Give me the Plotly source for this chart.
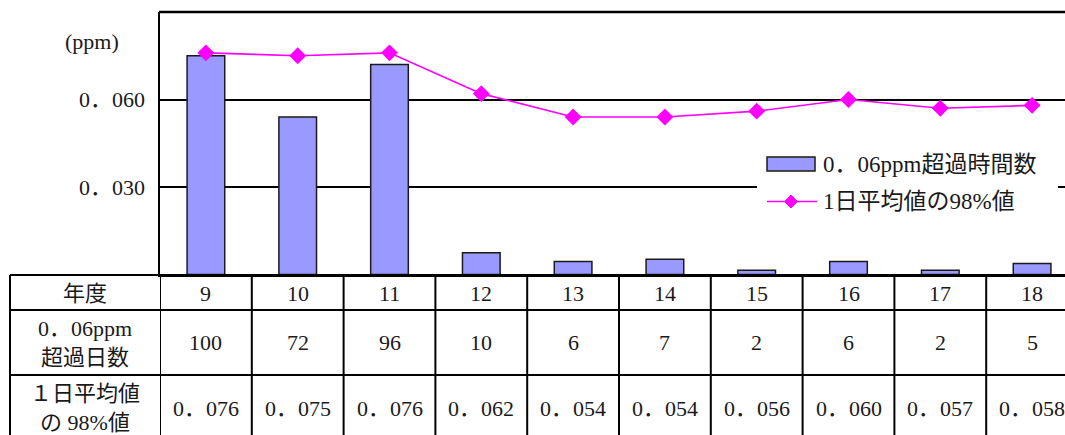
import plotly.graph_objects as go

# ---- data -------------------------------------------------------------
years = ["9", "10", "11", "12", "13", "14", "15", "16", "17", "18"]
exceed_days = [100, 72, 96, 10, 6, 7, 2, 6, 2, 5]
p98 = [0.076, 0.075, 0.076, 0.062, 0.054, 0.054, 0.056, 0.060, 0.057, 0.058]
ppm_ticks = [0.03, 0.06]

bar_name = "0．06ppm超過時間数"
line_name = "1日平均値の98%値"
row_labels = ["年度", "0．06ppm<br>超過日数", "１日平均値<br>の 98%値"]
unit_label = "(ppm)"

# ---- page geometry (pixels) --------------------------------------------
W, H = 1065, 435
FONT = "Liberation Serif, Noto Sans CJK JP, serif"
TXT = "#1a1a1a"
BAR_FILL = "#9999FF"
MAGENTA = "#FF00FF"


def px(x):
    return x / W


def py(y):
    return (H - y) / H


def fmt(v):
    # decimal values written with a full-width point
    return f"{v:.3f}".replace(".", "．")


PLOT_LEFT, PLOT_TOP, PLOT_BOTTOM = 160, 12, 274.5
COL_W = 91.8
x_end = -0.5 + (W - PLOT_LEFT) / COL_W

fig = go.Figure()

fig.add_trace(go.Bar(
    x=years, y=exceed_days, name=bar_name, yaxis="y",
    width=0.41,
    marker=dict(color=BAR_FILL, line=dict(color=TXT, width=1.5)),
    showlegend=False,
))
fig.add_trace(go.Scatter(
    x=years, y=p98, name=line_name, yaxis="y2",
    mode="lines+markers",
    line=dict(color=MAGENTA, width=1.7),
    marker=dict(symbol="diamond", size=13, color=MAGENTA),
    showlegend=False,
))

shapes = []
annotations = []

# frame line along the top of the plot
shapes.append(dict(type="line", xref="paper", yref="paper",
                   x0=px(PLOT_LEFT - 1), x1=1, y0=py(PLOT_TOP), y1=py(PLOT_TOP),
                   line=dict(color="black", width=2.5)))

# ---- table under the chart ---------------------------------------------
row_edges = [275, 310, 375]
row_mid = [293, 342.5, 408]
table_bottom = 445
table_left = 10

for yy in row_edges:
    shapes.append(dict(type="line", xref="paper", yref="paper",
                       x0=px(table_left), x1=1, y0=py(yy), y1=py(yy),
                       line=dict(color="black", width=2)))
shapes.append(dict(type="line", xref="paper", yref="paper",
                   x0=px(table_left), x1=px(table_left),
                   y0=py(275), y1=py(table_bottom),
                   line=dict(color="black", width=2)))
for k in range(len(years) + 1):
    shapes.append(dict(type="line", xref="x", yref="paper",
                       x0=k - 0.5, x1=k - 0.5,
                       y0=py(275), y1=py(table_bottom),
                       line=dict(color="black", width=2)))

for lab, ym in zip(row_labels, row_mid):
    annotations.append(dict(xref="paper", yref="paper", x=px(85), y=py(ym),
                            text=lab, showarrow=False, xanchor="center",
                            yanchor="middle", align="center",
                            font=dict(family=FONT, size=22, color=TXT)))

for i, yr in enumerate(years):
    cells = [yr, str(exceed_days[i]), fmt(p98[i])]
    for txt, ym in zip(cells, row_mid):
        annotations.append(dict(xref="x", yref="paper", x=i, y=py(ym),
                                text=txt, showarrow=False, xanchor="center",
                                yanchor="middle",
                                font=dict(family=FONT, size=22, color=TXT)))

# unit label above the value axis
annotations.append(dict(xref="paper", yref="paper", x=px(92), y=py(41),
                        text=unit_label, showarrow=False,
                        xanchor="center", yanchor="middle",
                        font=dict(family=FONT, size=22, color=TXT)))

# ---- legend box ---------------------------------------------------------
shapes.append(dict(type="rect", xref="paper", yref="paper", layer="above",
                   x0=px(757), x1=px(1058), y0=py(146), y1=py(216),
                   fillcolor="white", line=dict(width=0)))
shapes.append(dict(type="rect", xref="paper", yref="paper", layer="above",
                   x0=px(767), x1=px(815), y0=py(157), y1=py(171),
                   fillcolor=BAR_FILL, line=dict(color=TXT, width=1.5)))
shapes.append(dict(type="line", xref="paper", yref="paper", layer="above",
                   x0=px(767), x1=px(817), y0=py(201.5), y1=py(201.5),
                   line=dict(color=MAGENTA, width=1.7)))
shapes.append(dict(type="path", xref="paper", yref="paper", layer="above",
                   xsizemode="pixel", ysizemode="pixel",
                   xanchor=px(791), yanchor=py(201.5),
                   path="M0,6.5 L6.5,0 L0,-6.5 L-6.5,0 Z",
                   fillcolor=MAGENTA, line=dict(color=MAGENTA, width=1)))
for name, ym in [(bar_name, 164), (line_name, 201.5)]:
    annotations.append(dict(xref="paper", yref="paper", x=px(821), y=py(ym),
                            text=name, showarrow=False, xanchor="left",
                            yanchor="middle",
                            font=dict(family=FONT, size=23, color=TXT)))

fig.update_layout(
    width=W, height=H, autosize=False,
    margin=dict(l=0, r=0, t=0, b=0),
    paper_bgcolor="white", plot_bgcolor="white",
    xaxis=dict(type="category", domain=[px(PLOT_LEFT), 1],
               range=[-0.5, x_end], showticklabels=False, ticks="",
               showgrid=False, zeroline=False,
               showline=True, linecolor="black", linewidth=2),
    yaxis=dict(domain=[py(PLOT_BOTTOM), py(PLOT_TOP)], range=[0, 120],
               showticklabels=False, ticks="", showgrid=False,
               zeroline=False, showline=True, linecolor="black", linewidth=2),
    yaxis2=dict(overlaying="y", side="left", range=[0, 0.09],
                tickvals=ppm_ticks, ticktext=[fmt(v) for v in ppm_ticks],
                ticks="", ticklabelstandoff=14,
                showgrid=True, gridcolor="black", gridwidth=2,
                zeroline=False, showline=False,
                tickfont=dict(family=FONT, size=22, color=TXT)),
    shapes=shapes,
    annotations=annotations,
)

fig.write_html("out.html")
